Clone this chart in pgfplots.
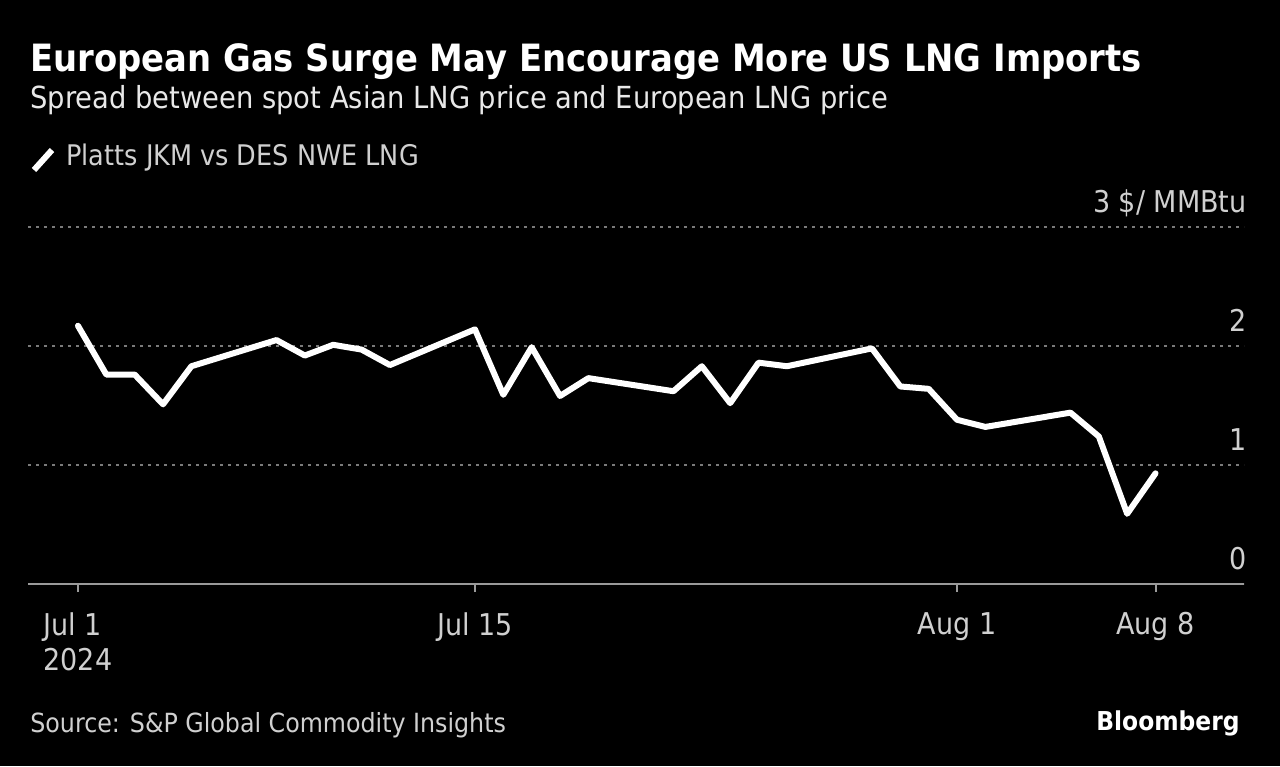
\documentclass[border=0pt]{standalone}
\usepackage{fontspec}
\setmainfont{DejaVu Sans Condensed}
\usepackage{pgfplots}
\pgfplotsset{compat=1.18}
\definecolor{gridgray}{HTML}{7A7A7A}
\definecolor{axgray}{HTML}{9A9A9A}
\definecolor{ticktext}{HTML}{D0D0D0}
\definecolor{subtext}{HTML}{E8E8E8}
\pgfplotstableread{
day val
0 2.17
1 1.76
2 1.76
3 1.51
4 1.83
7 2.05
8 1.92
9 2.01
10 1.97
11 1.84
14 2.14
15 1.59
16 1.99
17 1.58
18 1.73
21 1.62
22 1.83
23 1.52
24 1.86
25 1.83
28 1.98
29 1.66
30 1.64
31 1.38
32 1.32
35 1.44
36 1.24
37 0.59
38 0.93
}\spreaddata
\begin{document}
\begin{tikzpicture}[x=1pt,y=1pt]
\fill[black] (0,0) rectangle (640,383);
\useasboundingbox (0,0) rectangle (640,383);
\begin{axis}[
  at={(14pt,91pt)}, anchor=south west,
  scale only axis, width=608pt, height=178.5pt,
  xmin=-1.762, xmax=41.12, ymin=0, ymax=3,
  separate axis lines,
  axis x line*=bottom,
  x axis line style={draw=axgray, line width=1pt, -},
  axis y line*=right,
  y axis line style={draw=none},
  xtick={0,14,31,38},
  xticklabels={{Jul 1\\2024},{Jul 15},{Aug 1},{Aug 8}},
  ytick={0,1,2,3},
  yticklabels={0,1,2,{3 \$/ MMBtu}},
  yticklabel pos=right,
  tick align=outside,
  major tick length=4pt,
  xtick style={draw=axgray, line width=1pt},
  ytick style={draw=none},
  ymajorgrids,
  grid style={draw=gridgray, line width=1pt, dash pattern=on 1.5pt off 2.5pt},
  ticklabel style={font=\fontsize{15}{17.5}\selectfont, text=ticktext},
  xticklabel style={align=left, inner sep=0pt, anchor=north, yshift=-10pt},
  yticklabel style={anchor=base east, inner sep=0pt, yshift=7.5pt, xshift=-2.5pt},
  clip=false,
]
\addplot[white, line width=3pt, line join=round, line cap=round] table[x=day, y=val] {\spreaddata};
\end{axis}
\node[anchor=base west, inner sep=0pt, text=white, font=\fontsize{18.8}{22}\selectfont\bfseries] at (15,347) {European Gas Surge May Encourage More US LNG Imports};
\node[anchor=base west, inner sep=0pt, text=subtext, font=\fontsize{15.2}{18}\selectfont] at (15,328.5) {Spread between spot Asian LNG price and European LNG price};
\draw[white, line width=3pt] (17,298) -- (26,308);
\node[anchor=base west, inner sep=0pt, text=ticktext, font=\fontsize{14.2}{17}\selectfont] at (33,300) {Platts JKM vs DES NWE LNG};
\node[anchor=base west, inner sep=0pt, text=ticktext, font=\fontsize{13.2}{16}\selectfont] at (15,16.5) {Source: S\&P Global Commodity Insights};
\node[anchor=base east, inner sep=0pt, text=white, font=\fontsize{13}{16}\selectfont\bfseries] at (620,18) {Bloomberg};
\end{tikzpicture}
\end{document}
